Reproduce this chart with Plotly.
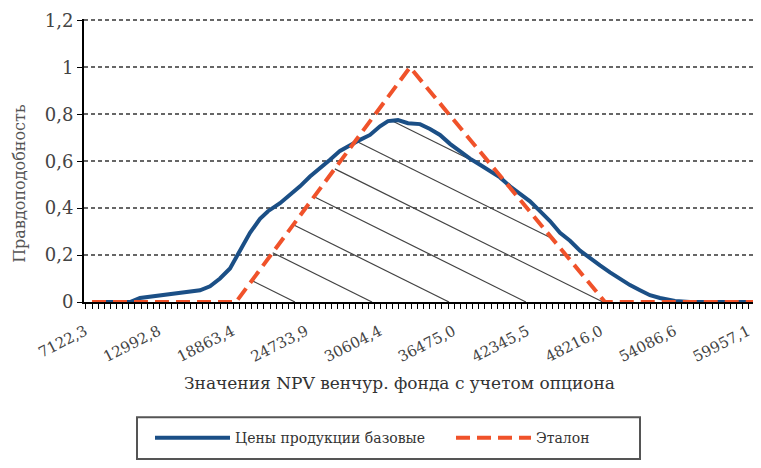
import plotly.graph_objects as go
import numpy as np

# NPV values (x) and probability
blue_x = [7122.3, 10150, 10947, 12541, 14135, 15729, 16526, 17323, 18120, 18916,
          19713, 20510, 21148, 22104, 22901, 23698, 24495, 25292, 26089, 26886,
          27682, 28479, 29276, 30073, 30711, 31508, 32304, 33261, 34058, 34855,
          35652, 36448, 37245, 38042, 38839, 39636, 40433, 41230, 42027, 42823,
          43620, 44417, 45214, 46011, 46808, 47605, 48401, 49198, 49995, 50792,
          51589, 52386, 53581, 54777, 59957.1]
blue_y = [0, 0, 0.017, 0.029, 0.042, 0.05, 0.067, 0.10, 0.143, 0.219,
          0.295, 0.354, 0.387, 0.421, 0.455, 0.493, 0.535, 0.568, 0.606, 0.644,
          0.669, 0.691, 0.712, 0.749, 0.771, 0.775, 0.762, 0.758, 0.737, 0.712,
          0.674, 0.64, 0.611, 0.585, 0.556, 0.531, 0.493, 0.459, 0.429, 0.387,
          0.345, 0.295, 0.261, 0.219, 0.185, 0.156, 0.126, 0.097, 0.072, 0.05,
          0.029, 0.017, 0.004, 0, 0]

red_x = [7122.3, 18598, 32464, 48003, 59957.1]
red_y = [0, 0, 1, 0, 0]

tick_vals = [7122.3, 12992.8, 18863.4, 24733.9, 30604.4, 36475.0, 42345.5,
             48216.0, 54086.6, 59957.1]
tick_text = ['7122,3', '12992,8', '18863,4', '24733,9', '30604,4', '36475,0',
             '42345,5', '48216,0', '54086,6', '59957,1']
y_ticks = [0, 0.2, 0.4, 0.6, 0.8, 1, 1.2]

x_range = [6485, 60276]
y_range = [0, 1.206]
plot_w, plot_h = 675, 285

# hatch lines inside the area under both curves
xpp = (x_range[1] - x_range[0]) / plot_w
ypp = (y_range[1] - y_range[0]) / plot_h
xs = np.linspace(red_x[1], red_x[3], 3000)
env = np.minimum(np.interp(xs, blue_x, blue_y), np.interp(xs, red_x, red_y))
hx, hy = [], []
for i in range(12):
    c = x_range[0] + (211 + i * 77) * xpp
    yl = (c - xs) / xpp * 0.5 * ypp
    m = (yl >= 0) & (yl <= env)
    if not m.any():
        continue
    idx = np.flatnonzero(m)
    runs = np.split(idx, np.flatnonzero(np.diff(idx) > 1) + 1)
    for r in runs:
        if len(r) < 3:
            continue
        hx += [xs[r[0]], xs[r[-1]], None]
        hy += [yl[r[0]], yl[r[-1]], None]

fig = go.Figure()
fig.add_trace(go.Scatter(x=hx, y=hy, mode='lines', line=dict(color='#444444', width=1.2),
                         showlegend=False, hoverinfo='skip'))
fig.add_trace(go.Scatter(x=blue_x, y=blue_y, mode='lines', name='Цены продукции базовые',
                         line=dict(color='#1b4f86', width=4)))
fig.add_trace(go.Scatter(x=red_x, y=red_y, mode='lines', name='Эталон',
                         line=dict(color='#f0522a', width=4, dash='14px,7px')))

font = 'DejaVu Serif, Liberation Serif, serif'

# legend frame
fig.add_shape(type='rect', xref='paper', yref='paper',
              x0=53 / plot_w, x1=556 / plot_w, y0=-158 / plot_h, y1=-116 / plot_h,
              line=dict(color='#555555', width=2), fillcolor='rgba(0,0,0,0)')

# axis titles
fig.add_annotation(text='Значения NPV венчур. фонда с учетом опциона',
                   xref='paper', yref='paper', x=315 / plot_w, y=-82 / plot_h,
                   showarrow=False, xanchor='center', yanchor='middle',
                   font=dict(size=17, color='#333333'))
fig.add_annotation(text='Правдоподобность', textangle=-90,
                   xref='paper', yref='paper', x=-64 / plot_w, y=119 / plot_h,
                   showarrow=False, xanchor='center', yanchor='middle',
                   font=dict(size=16, color='#555555'))

fig.update_layout(
    width=753, height=460,
    margin=dict(l=76, r=2, t=9, b=166),
    plot_bgcolor='white', paper_bgcolor='white',
    separators=', ',
    font=dict(family=font, size=16, color='#333333'),
    xaxis=dict(
        range=x_range, tickvals=tick_vals, ticktext=tick_text, tickangle=-27,
        showgrid=False, zeroline=False, showline=True, linecolor='black', linewidth=2,
        ticks='outside', ticklen=5, tickcolor='black',
        ticklabelshift=-7, ticklabelstandoff=8,
        minor=dict(tickmode='linear', tick0=7122.3, dtick=5870.5 / 12,
                   ticks='outside', ticklen=5, tickcolor='black', showgrid=False),
        tickfont=dict(size=15, color='#444444'),
    ),
    yaxis=dict(
        range=y_range, tickvals=y_ticks, ticklabeloverflow='allow',
        showgrid=True, gridcolor='#666666', griddash='4px,3px', gridwidth=1.5,
        zeroline=False, showline=True, linecolor='black', linewidth=2,
        ticks='outside', ticklen=5, tickcolor='black',
        tickfont=dict(size=18, color='#444444'),
    ),
    legend=dict(
        orientation='h', x=66 / plot_w, xanchor='left', y=-137 / plot_h, yanchor='middle',
        borderwidth=0, itemwidth=75, bgcolor='rgba(0,0,0,0)',
        font=dict(size=14, color='#333333'), entrywidth=211,
    ),
)

fig.write_html('out.html')
